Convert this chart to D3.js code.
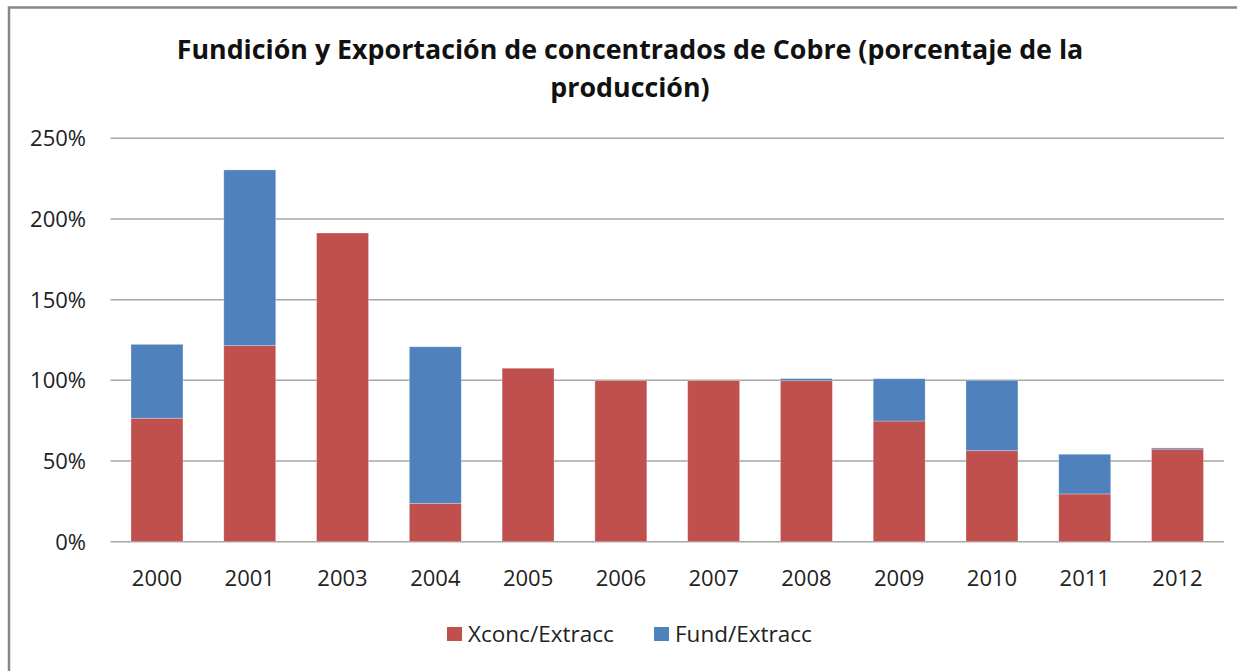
<!DOCTYPE html>
<html>
<head>
<meta charset="utf-8">
<script src="https://cdn.jsdelivr.net/npm/d3@7"></script>
<style>
  body { margin: 0; background: #fff; }
  svg { display: block; font-family: "Open Sans", sans-serif; }
</style>
</head>
<body>
<svg width="1237" height="671"></svg>
<script>
// data (share of production)
var years  = ["2000", "2001", "2003", "2004", "2005", "2006", "2007", "2008", "2009", "2010", "2011", "2012"];
var xconc  = [0.765, 1.215, 1.913, 0.238, 1.075, 0.998, 0.998, 0.998, 0.748, 0.564, 0.296, 0.574];
var fund   = [0.458, 1.089, 0.000, 0.970, 0.000, 0.000, 0.000, 0.013, 0.262, 0.436, 0.246, 0.007];
var yTicks = [0, 0.5, 1, 1.5, 2, 2.5];
var seriesNames  = ["Xconc/Extracc", "Fund/Extracc"];
var seriesColors = ["#C0504D", "#4F81BD"];

var svg = d3.select("svg");
var plot = { left: 110.6, right: 1223.9, top: 138.3, bottom: 541.7 };

// chart frame (only left & top edges show in the crop)
svg.append("path")
    .attr("d", "M9,671 V7.5 H1237")
    .attr("fill", "none")
    .attr("stroke", "#878787")
    .attr("stroke-width", 2.5);

var x = d3.scaleBand()
    .domain(years)
    .range([plot.left, plot.right])
    .paddingInner(0.44)
    .paddingOuter(0.22);

var y = d3.scaleLinear()
    .domain([0, 2.5])
    .range([plot.bottom, plot.top]);

// gridlines
svg.append("g")
  .selectAll("line")
  .data(yTicks)
  .enter().append("line")
    .attr("x1", plot.left)
    .attr("x2", plot.right)
    .attr("y1", function(d) { return y(d); })
    .attr("y2", function(d) { return y(d); })
    .attr("stroke", "#A6A6A6")
    .attr("stroke-width", 1.5);

// y labels
svg.append("g")
  .selectAll("text")
  .data(yTicks)
  .enter().append("text")
    .attr("x", 86)
    .attr("y", function(d) { return y(d); })
    .attr("dy", "0.36em")
    .attr("text-anchor", "end")
    .attr("font-size", 22)
    .attr("fill", "#222")
    .text(function(d) { return d3.format(".0%")(d); });

// stacked bars
var rows = years.map(function(yr, i) { return { year: yr, xconc: xconc[i], fund: fund[i] }; });
var stack = d3.stack().keys(["xconc", "fund"])(rows);

svg.append("g")
  .selectAll("g")
  .data(stack)
  .enter().append("g")
    .attr("fill", function(d, i) { return seriesColors[i]; })
  .selectAll("rect")
  .data(function(d) { return d; })
  .enter().append("rect")
    .attr("x", function(d) { return x(d.data.year); })
    .attr("width", x.bandwidth())
    .attr("y", function(d) { return y(d[1]); })
    .attr("height", function(d) { return y(d[0]) - y(d[1]); })
    .attr("stroke", "rgba(255,255,255,0.35)")
    .attr("stroke-width", 0.8);

// x labels
svg.append("g")
  .selectAll("text")
  .data(years)
  .enter().append("text")
    .attr("x", function(d) { return x(d) + x.bandwidth() / 2; })
    .attr("y", 586)
    .attr("text-anchor", "middle")
    .attr("font-size", 22)
    .attr("fill", "#222")
    .text(function(d) { return d; });

// title
var title = svg.append("text")
    .attr("text-anchor", "middle")
    .attr("font-size", 26.8)
    .attr("font-weight", "bold")
    .attr("fill", "#111");
title.append("tspan").attr("x", 630).attr("y", 59)
    .text("Fundición  y Exportación  de concentrados  de Cobre  (porcentaje de la");
title.append("tspan").attr("x", 630).attr("y", 97)
    .text("producción)");

// legend
var legendX = [447, 654];
var legend = svg.append("g")
  .selectAll("g")
  .data(seriesNames)
  .enter().append("g")
    .attr("transform", function(d, i) { return "translate(" + legendX[i] + ",627)"; });

legend.append("rect")
    .attr("width", 15)
    .attr("height", 14)
    .attr("fill", function(d, i) { return seriesColors[i]; });

legend.append("text")
    .attr("x", 21)
    .attr("y", 7)
    .attr("dy", "0.36em")
    .attr("font-size", 22.5)
    .attr("fill", "#222")
    .text(function(d) { return d; });
</script>
</body>
</html>
